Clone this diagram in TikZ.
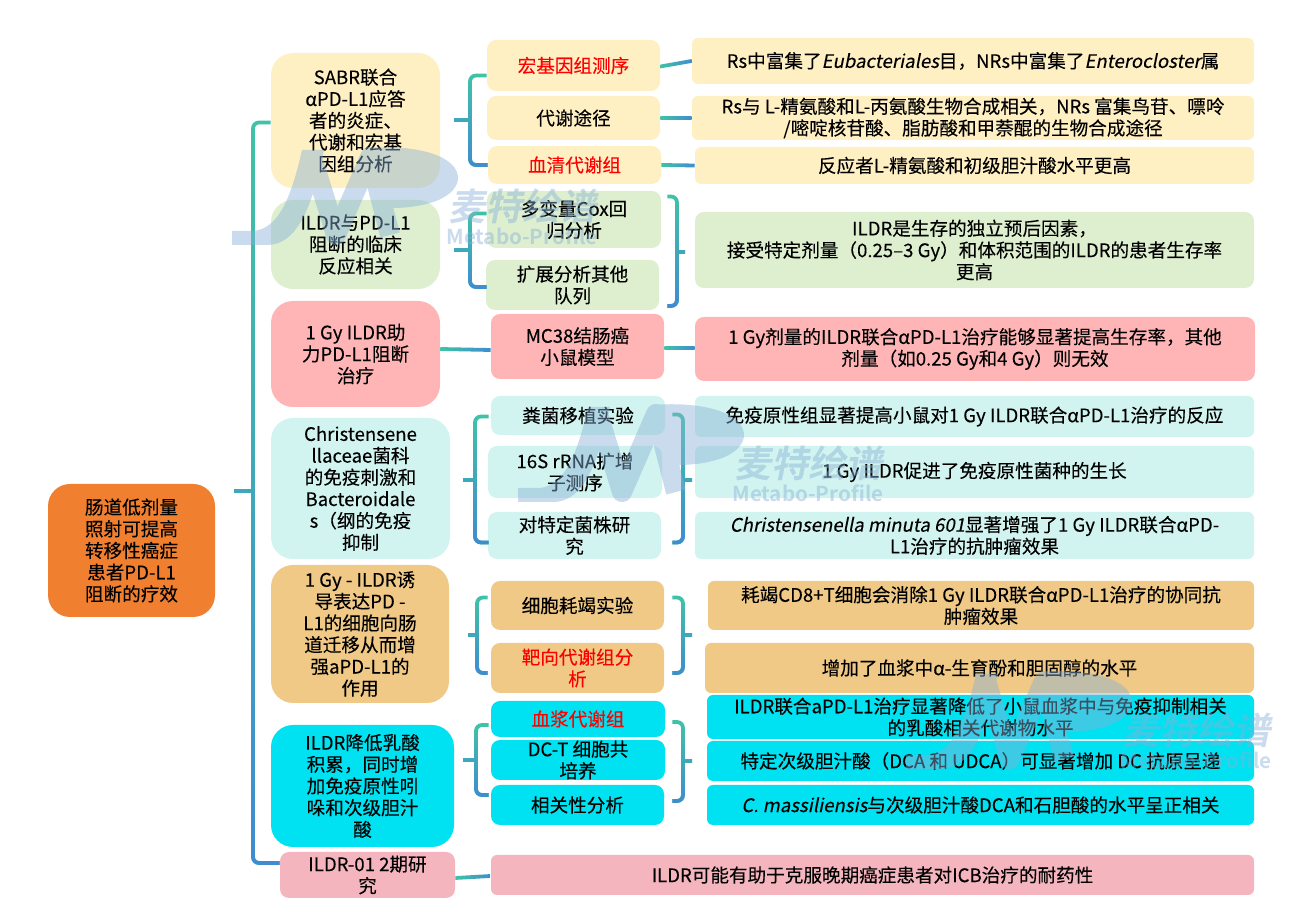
\documentclass[tikz,border=0pt]{standalone}
\usepackage{fontspec}
\setmainfont[FakeBold=0.15,ItalicFont={Noto Sans CJK SC},ItalicFeatures={FakeSlant=0.2,FakeBold=0.15}]{Noto Sans CJK SC}
\newfontfamily\wmfont[FakeSlant=0.2]{Noto Sans CJK SC Bold}
\newfontfamily\wmlatin{Noto Sans CJK SC Bold}
\usetikzlibrary{calc,fadings}

\definecolor{linkteal}{HTML}{3FC3A6}
\definecolor{linkblue}{HTML}{3F8CD0}
\definecolor{rootfill}{HTML}{F08030}
\definecolor{yelfill}{HTML}{FFF0C4}
\definecolor{grnfill}{HTML}{DEEFD0}
\definecolor{pnkfill}{HTML}{FFB5B5}
\definecolor{aqufill}{HTML}{D2F4F0}
\definecolor{tanfill}{HTML}{EFC985}
\definecolor{cyafill}{HTML}{00E1F1}
\definecolor{rosfill}{HTML}{F5B5BF}
\definecolor{wmblue}{HTML}{87B0D5}

\tikzfading[name=bluefade, top color=transparent!100, bottom color=transparent!0]

\tikzset{
  basebox/.style={fill=#1, inner sep=0pt, align=center, text=black,
    node font=\fontsize{9.3}{10.85}\selectfont},
  topbox/.style={basebox=#1, rounded corners=11pt},
  midbox/.style={basebox=#1, rounded corners=4.5pt},
  endbox/.style={basebox=#1, rounded corners=3pt},
  redtext/.style={text=red},
  linkline/.style={line width=1.9pt, rounded corners=3pt},
}

% name, style, x0, y0, x1, y1, text (all in image pixels)
\newcommand\bx[7]{
  \pgfmathsetmacro\bw{(#5-#3)*0.5}
  \pgfmathsetmacro\bh{(#6-#4)*0.5}
  \node[#2, minimum width=\bw pt, minimum height=\bh pt] (#1) at ({(#3+#5)/2},{(#4+#6)/2}) {#7};
}
% bracket, teal at the top and blue at the bottom
\newcommand\brk[1]{
  \draw[linkline, linkteal] #1;
  \draw[linkline, linkblue, path fading=bluefade] #1;
}
% straight link, teal on the left and blue on the right
\newcommand\hlink[2]{
  \coordinate (la) at #1;
  \coordinate (lb) at #2;
  \shade[left color=linkteal, right color=linkblue]
    ($(la)+(0,-1.9)$) -- ($(lb)+(0,-1.9)$) -- ($(lb)+(0,1.9)$) -- ($(la)+(0,1.9)$) -- cycle;
}

\begin{document}
\begin{tikzpicture}[x=0.5pt, y=-0.5pt]
\useasboundingbox (0,0) rectangle (1292,913);

\bx{root}{topbox=rootfill}{48}{484}{215}{617}{肠道低剂量\\照射可提高\\转移性癌症\\患者PD-L1\\阻断的疗效}

\bx{sabr}{topbox=yelfill}{271}{53}{440}{188}{SABR联合\\αPD-L1应答\\者的炎症、\\代谢和宏基\\因组分析}
\bx{ildr}{topbox=grnfill}{271}{200}{440}{289}{ILDR与PD-L1\\阻断的临床\\反应相关}
\bx{gyone}{topbox=pnkfill}{271}{301}{440}{407}{1 Gy ILDR助\\力PD-L1阻断\\治疗}
\bx{chri}{topbox=aqufill}{271}{418}{450}{559}{Christensene\\llaceae菌科\\的免疫刺激和\\Bacteroidale\\s（纲的免疫\\抑制}
\bx{migr}{topbox=tanfill}{271}{565}{449}{703}{1 Gy - ILDR诱\\导表达PD -\\L1的细胞向肠\\道迁移从而增\\强aPD-L1的\\作用}
\bx{lact}{topbox=cyafill}{271}{725}{454}{847}{ILDR降低乳酸\\积累，同时增\\加免疫原性吲\\哚和次级胆汁\\酸}
\bx{phase}{midbox=rosfill}{280}{852}{455}{898}{ILDR-01 2期研\\究}

\bx{meta}{midbox=yelfill, redtext}{487}{40}{660}{91}{宏基因组测序}
\bx{path}{midbox=yelfill}{487}{96}{660}{140}{代谢途径}
\bx{seru}{midbox=yelfill, redtext}{488}{146}{661}{184}{血清代谢组}
\bx{cox}{midbox=grnfill}{487}{191}{661}{248}{多变量Cox回\\归分析}
\bx{coho}{midbox=grnfill}{486}{260}{659}{310}{扩展分析其他\\队列}
\bx{mice}{midbox=pnkfill}{491}{314}{664}{379}{MC38结肠癌\\小鼠模型}
\bx{fmt}{midbox=aqufill}{491}{396}{665}{435}{粪菌移植实验}
\bx{rrna}{midbox=aqufill}{488}{446}{662}{498}{16S rRNA扩增\\子测序}
\bx{stra}{midbox=aqufill}{488}{512}{661}{559}{对特定菌株研\\究}
\bx{depl}{midbox=tanfill}{491}{581}{664}{630}{细胞耗竭实验}
\bx{targ}{midbox=tanfill, redtext}{491}{643}{664}{693}{靶向代谢组分\\析}
\bx{plas}{midbox=cyafill, redtext}{491}{701}{665}{737}{血浆代谢组}
\bx{dct}{midbox=cyafill}{491}{740}{665}{780}{DC-T 细胞共\\培养}
\bx{corr}{midbox=cyafill}{491}{785}{664}{825}{相关性分析}

\bx{metar}{endbox=yelfill}{692}{38}{1254}{84}{Rs中富集了\textit{Eubacteriales}目，NRs中富集了\textit{Enterocloster}属}
\bx{pathr}{endbox=yelfill}{692}{96}{1254}{140}{Rs与 L-精氨酸和L-丙氨酸生物合成相关，NRs 富集鸟苷、嘌呤\\/嘧啶核苷酸、脂肪酸和甲萘醌的生物合成途径}
\bx{serur}{endbox=yelfill}{695}{147}{1254}{184}{反应者L-精氨酸和初级胆汁酸水平更高}
\bx{ildrr}{midbox=grnfill}{695}{212}{1254}{288}{ILDR是生存的独立预后因素，\\接受特定剂量（0.25–3 Gy）和体积范围的ILDR的患者生存率\\更高}
\bx{micer}{midbox=pnkfill}{695}{317}{1255}{381}{1 Gy剂量的ILDR联合αPD-L1治疗能够显著提高生存率，其他\\剂量（如0.25 Gy和4 Gy）则无效}
\bx{fmtr}{endbox=aqufill}{695}{396}{1254}{437}{免疫原性组显著提高小鼠对1 Gy ILDR联合αPD-L1治疗的反应}
\bx{rrnar}{endbox=aqufill}{695}{446}{1254}{498}{1 Gy ILDR促进了免疫原性菌种的生长}
\bx{strar}{endbox=aqufill}{695}{512}{1254}{559}{\textit{Christensenella minuta 601}显著增强了1 Gy ILDR联合αPD-\\L1治疗的抗肿瘤效果}
\bx{deplr}{endbox=tanfill}{708}{581}{1254}{630}{耗竭CD8+T细胞会消除1 Gy ILDR联合αPD-L1治疗的协同抗\\肿瘤效果}
\bx{targr}{endbox=tanfill}{705}{643}{1254}{693}{增加了血浆中α-生育酚和胆固醇的水平}
\bx{plasr}{endbox=cyafill}{707}{695}{1254}{739}{ILDR联合aPD-L1治疗显著降低了小鼠血浆中与免疫抑制相关\\的乳酸相关代谢物水平}
\bx{dctr}{endbox=cyafill}{707}{741}{1254}{781}{特定次级胆汁酸（DCA 和 UDCA）可显著增加 DC 抗原呈递}
\bx{corrr}{endbox=cyafill}{707}{785}{1254}{825}{\textit{C. massiliensis}与次级胆汁酸DCA和石胆酸的水平呈正相关}
\bx{phaser}{endbox=rosfill}{491}{855}{1254}{895}{ILDR可能有助于克服晚期癌症患者对ICB治疗的耐药性}

% joints and free ends of the brackets
\coordinate (rootq) at (234,491);
\coordinate (rootj) at (253,491);
\coordinate (sabrq) at (454,120);
\coordinate (sabrj) at (470,120);
\coordinate (ildrq) at (454,250);
\coordinate (ildrj) at (470,250);
\coordinate (ildrk) at (677,252);
\coordinate (ildrm) at (685,252);
\coordinate (chriq) at (463,480);
\coordinate (chrij) at (475,480);
\coordinate (chrik) at (683,480);
\coordinate (chrim) at (692,480);
\coordinate (migrq) at (468,635);
\coordinate (migrj) at (477,635);
\coordinate (migrk) at (683,635);
\coordinate (migrm) at (692,635);
\coordinate (lactq) at (463,760);
\coordinate (lactj) at (476,760);
\coordinate (lactk) at (683,761);
\coordinate (lactm) at (692,761);

\brk{($(sabr.west)+(0,2)$) -| (rootj) |- ($(phase.west)+(0,-12)$) (rootq) -- (rootj)}
\brk{($(meta.west)+(0,10)$) -| (sabrj) |- ($(seru.west)+(0,0)$) (sabrq) -- (sabrj)}
\brk{($(cox.west)+(0,-6)$) -| (ildrj) |- ($(coho.west)+(1,2)$) (ildrq) -- (ildrj)}
\brk{($(cox.east)+(6,-23)$) -| (ildrk) |- ($(coho.east)+(8,21)$) (ildrk) -- (ildrm)}
\brk{($(fmt.west)+(-2,1)$) -| (chrij) |- ($(stra.west)+(1,7)$) (chriq) -- (chrij)}
\brk{($(fmt.east)+(7,-1)$) -| (chrik) |- ($(stra.east)+(11,7)$) (chrik) -- (chrim)}
\brk{($(depl.west)+(-3,-8)$) -| (migrj) |- ($(targ.west)+(-3,5)$) (migrq) -- (migrj)}
\brk{($(depl.east)+(8,-8)$) -| (migrk) |- ($(targ.east)+(8,5)$) (migrk) -- (migrm)}
\brk{($(plas.west)+(-2,6)$) -| (lactj) |- ($(corr.west)+(-2,-10)$) (lactq) -- (lactj)}
\brk{($(plas.east)+(7,3)$) -| (lactk) |- ($(corr.east)+(8,-4)$) (lactk) -- (lactm)}

\hlink{($(meta.east)+(0,1)$)}{(metar.west)}
\hlink{($(path.east)+(0,0)$)}{(pathr.west)}
\hlink{($(seru.east)+(0,0)$)}{(serur.west)}
\hlink{($(gyone.east)+(0,-5)$)}{($(mice.west)+(0,3.5)$)}
\hlink{($(mice.east)+(0,1.5)$)}{($(micer.west)+(0,-1)$)}
\hlink{($(phase.east)+(0,3)$)}{($(phaser.west)+(0,1)$)}

% watermark, three times
\foreach \wx/\wy/\wn in {232/148/a, 518/405/b, 906/672/c}{
  \begin{scope}[shift={(\wx,\wy)}, transparency group, opacity=0.45]
    \fill[wmblue] (0,83) -- (22,83) .. controls (45,80) and (58,55) .. (70,2) -- (92,2)
      .. controls (80,60) and (65,97) .. (35,97) -- (0,97) -- cycle;
    \draw[wmblue, line width=10pt, line join=round] (80,9) -- (104,87) -- (138,9) -- (158,87);
    \fill[wmblue] (135,0) .. controls (185,-4) and (228,8) .. (226,32) .. controls (222,52) and (190,60) .. (160,60) -- (150,40) -- cycle;
    \node[text=wmblue, inner sep=0pt, font=\fontsize{18.5}{18.5}\wmfont] (wmcn\wn) at (290,58) {麦特绘谱};
    \node[text=wmblue, inner sep=0pt, font=\fontsize{10.3}{10.3}\wmlatin] (wmen\wn) at (290,88) {Metabo-Profile};
  \end{scope}
}
\end{tikzpicture}
\end{document}
